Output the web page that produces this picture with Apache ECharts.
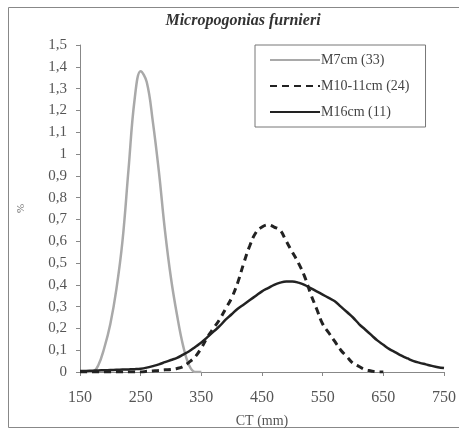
<!DOCTYPE html>
<html><head><meta charset="utf-8">
<script src="https://cdn.jsdelivr.net/npm/echarts@6/dist/echarts.min.js"></script>
<style>html,body{margin:0;padding:0;background:#fff}#c{width:459px;height:433px}</style>
</head><body><div id="c"></div>
<script>
const xM7 = [160,170,180,190,200,210,220,230,240,250,260,270,280,290,300,310,320,330,340,350];
const yM7 = [0,0,0.03,0.11,0.22,0.38,0.6,0.93,1.25,1.38,1.33,1.15,0.92,0.65,0.43,0.26,0.12,0.03,0,0];
const xM10 = [150,160,170,180,190,200,210,220,230,240,250,260,270,280,290,300,310,320,330,340,350,360,370,380,390,400,410,420,430,440,450,460,470,480,490,500,510,520,530,540,550,560,570,580,590,600,610,620,630,640,650];
const yM10 = [0,0,0,0,0,0,0,0,0,0,0,0.003,0.005,0.007,0.01,0.012,0.016,0.025,0.045,0.07,0.11,0.16,0.2,0.24,0.29,0.34,0.41,0.5,0.58,0.64,0.665,0.675,0.665,0.65,0.6,0.55,0.5,0.44,0.36,0.29,0.22,0.18,0.14,0.1,0.07,0.04,0.025,0.01,0.005,0,0];
const xM16 = [150,160,170,180,190,200,210,220,230,240,250,260,270,280,290,300,310,320,330,340,350,360,370,380,390,400,410,420,430,440,450,460,470,480,490,500,510,520,530,540,550,560,570,580,590,600,610,620,630,640,650,660,670,680,690,700,710,720,730,740,750];
const yM16 = [0.005,0.005,0.006,0.007,0.008,0.009,0.01,0.011,0.012,0.013,0.015,0.02,0.027,0.035,0.045,0.055,0.065,0.08,0.095,0.115,0.135,0.16,0.185,0.21,0.24,0.265,0.29,0.31,0.33,0.35,0.37,0.385,0.4,0.41,0.415,0.415,0.41,0.4,0.385,0.37,0.355,0.34,0.325,0.3,0.275,0.25,0.22,0.195,0.17,0.145,0.125,0.105,0.09,0.075,0.062,0.05,0.042,0.035,0.028,0.022,0.018];
const names = ['M7cm (33)','M10-11cm (24)','M16cm (11)'];
const title = 'Micropogonias furnieri';
const xName = 'CT (mm)';
const yName = '%';

const zip = (xs, ys) => xs.map((x, i) => [x, ys[i]]);
const serif = 'Liberation Serif';
const chart = echarts.init(document.getElementById('c'));
chart.setOption({
  animation: false,
  backgroundColor: '#fff',
  title: { text: title, left: 238, top: 8, textAlign: 'center',
    textStyle: { fontFamily: serif, fontStyle: 'italic', fontWeight: 'bold', fontSize: 16, color: '#333' } },
  graphic: [{ type: 'rect', shape: { x: 8.5, y: 7.5, width: 460, height: 420 },
    style: { fill: 'none', stroke: '#888', lineWidth: 1 }, silent: true }],
  grid: { left: 80, right: 12, top: 45, bottom: 60, containLabel: false },
  legend: {
    orient: 'vertical', left: 255, top: 45, itemGap: 12, itemWidth: 50, itemHeight: 14,
    borderColor: '#777', borderWidth: 1, padding: [8, 16, 8, 14],
    itemStyle: { opacity: 0 },
    textStyle: { fontFamily: serif, fontSize: 14, color: '#444', padding: [0, 0, 0, -4] },
    data: names
  },
  xAxis: {
    type: 'value', min: 150, max: 750, interval: 100,
    name: xName, nameLocation: 'middle', nameGap: 42,
    nameTextStyle: { fontFamily: serif, fontSize: 14, color: '#555' },
    axisLine: { show: true, lineStyle: { color: '#888' } },
    axisTick: { show: true, length: 4, lineStyle: { color: '#888' } },
    axisLabel: { fontFamily: serif, fontSize: 16, color: '#555', margin: 18 },
    splitLine: { show: false }
  },
  yAxis: {
    type: 'value', min: 0, max: 1.5, interval: 0.1,
    name: yName, nameLocation: 'middle', nameGap: 53, nameRotate: 90,
    nameTextStyle: { fontFamily: serif, fontSize: 11, color: '#666' },
    axisLine: { show: true, lineStyle: { color: '#888' } },
    axisTick: { show: true, length: 4, lineStyle: { color: '#888' } },
    axisLabel: { fontFamily: serif, fontSize: 15, color: '#555', margin: 13,
      formatter: v => String(Math.round(v * 10) / 10).replace('.', ',') },
    splitLine: { show: false }
  },
  series: [
    { name: names[0], type: 'line', data: zip(xM7, yM7), smooth: 0.4, symbol: 'none',
      lineStyle: { color: '#a9a9a9', width: 2.5 }, itemStyle: { color: '#a9a9a9' } },
    { name: names[1], type: 'line', data: zip(xM10, yM10), smooth: 0.4, symbol: 'none',
      lineStyle: { color: '#222', width: 3, type: [7, 5] }, itemStyle: { color: '#222' } },
    { name: names[2], type: 'line', data: zip(xM16, yM16), smooth: 0.4, symbol: 'none',
      lineStyle: { color: '#222', width: 2.5 }, itemStyle: { color: '#222' } }
  ]
});
</script></body></html>
